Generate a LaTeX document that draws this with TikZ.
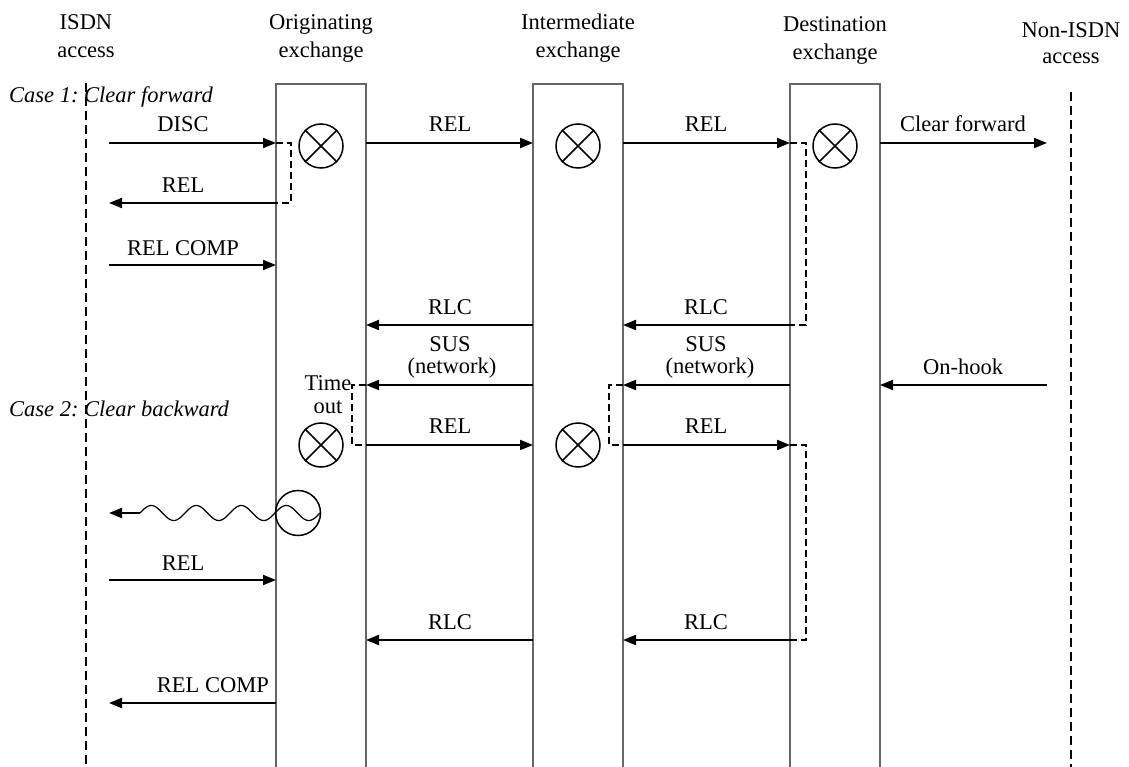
\documentclass[tikz,border=0pt]{standalone}
\usepackage{fontspec}
\setmainfont{Liberation Serif}
\usetikzlibrary{arrows.meta}
\begin{document}
\begin{tikzpicture}[x=1pt,y=-1pt,
  every node/.style={font=\fontsize{22.5}{27}\selectfont, inner sep=0pt},
  lbl/.style={anchor=base},
  msg/.style={line width=2pt, -{Triangle[length=13pt,width=10pt]}},
  life/.style={line width=1.8pt, dash pattern=on 9pt off 5pt},
  link/.style={line width=1.8pt, dash pattern=on 7pt off 4pt},
  exbox/.style={line width=1.5pt, draw=black!60},
  xcirc/.style={circle, draw, line width=1.5pt, minimum size=44pt},
]
\useasboundingbox (0,0) rectangle (1129,767);
% x positions
\path (109,0) coordinate (A) (276,0) coordinate (OL) (366,0) coordinate (OR)
      (533,0) coordinate (IL) (623,0) coordinate (IR)
      (790,0) coordinate (DL) (880,0) coordinate (DR) (1047,0) coordinate (B)
      (86,0) coordinate (LL) (1071,0) coordinate (RL);
% headers
\node[lbl] (h1a) at (86,30) {ISDN};
\node[lbl] (h1b) at (86,58) {access};
\node[lbl] (h2a) at (321,30) {Originating};
\node[lbl] (h2b) at (321,58) {exchange};
\node[lbl] (h3a) at (578,30) {Intermediate};
\node[lbl] (h3b) at (578,58) {exchange};
\node[lbl] (h4a) at (835,32) {Destination};
\node[lbl] (h4b) at (835,60) {exchange};
\node[lbl] (h5a) at (1071,38) {Non-ISDN};
\node[lbl] (h5b) at (1071,64) {access};
% lifelines
\draw[life] (LL |- 0,83) -- (LL |- 0,767);
\draw[life] (RL |- 0,92) -- (RL |- 0,767);
\draw[exbox] (OL |- 0,767) -- (OL |- 0,84) -- (OR |- 0,84) -- (OR |- 0,767);
\draw[exbox] (IL |- 0,767) -- (IL |- 0,84) -- (IR |- 0,84) -- (IR |- 0,767);
\draw[exbox] (DL |- 0,767) -- (DL |- 0,84) -- (DR |- 0,84) -- (DR |- 0,767);
% case labels
\node[anchor=base west, font=\fontsize{22.5}{27}\selectfont\itshape] (c1) at (9,103) {Case 1:\ Clear forward};
\node[anchor=base west, font=\fontsize{22.5}{27}\selectfont\itshape] (c2) at (9,416) {Case 2:\ Clear backward};
% crossed circles
\foreach \n/\x/\y in {x1/321/146, x2/578/146, x3/835/146, x4/321/445, x5/578/445} {
  \node[xcirc] (\n) at (\x,\y) {};
  \draw[line width=1.5pt] (\n.north west) -- (\n.south east) (\n.north east) -- (\n.south west);
}
% Case 1
\draw[msg] (A |- 0,143) -- (OL |- 0,143);
\node[lbl] (m1) at (183,132) {DISC};
\draw[link] (OL |- 0,143) -| (291,203) -- (OL |- 0,203);
\draw[msg] (OL |- 0,203) -- (A |- 0,203);
\node[lbl] (m2) at (183,193) {REL};
\draw[msg] (A |- 0,265) -- (OL |- 0,265);
\node[lbl] (m3) at (183,255) {REL COMP};
\draw[msg] (OR |- 0,143) -- (IL |- 0,143);
\node[lbl] (m4) at (450,132) {REL};
\draw[msg] (IR |- 0,143) -- (DL |- 0,143);
\node[lbl] (m5) at (706,132) {REL};
\draw[msg] (DR |- 0,143) -- (B |- 0,143);
\node[lbl] (m6) at (963,132) {Clear forward};
\draw[link] (DL |- 0,143) -| (806,325) -- (DL |- 0,325);
\draw[msg] (IL |- 0,325) -- (OR |- 0,325);
\node[lbl] (m7) at (450,314) {RLC};
\draw[msg] (DL |- 0,325) -- (IR |- 0,325);
\node[lbl] (m8) at (706,314) {RLC};
\draw[msg] (IL |- 0,385) -- (OR |- 0,385);
\node[lbl] (m9a) at (450,351) {SUS};
\node[lbl] (m9b) at (452,373) {(network)};
\draw[msg] (DL |- 0,385) -- (IR |- 0,385);
\node[lbl] (m10a) at (706,351) {SUS};
\node[lbl] (m10b) at (710,373) {(network)};
\draw[msg] (B |- 0,385) -- (DR |- 0,385);
\node[lbl] (m11) at (963,374) {On-hook};
% Case 2
\node[lbl] (t1) at (328,390) {Time};
\node[lbl] (t2) at (328,413) {out};
\draw[link] (OR |- 0,385) -| (352,445) -- (OR |- 0,445);
\draw[msg] (OR |- 0,445) -- (IL |- 0,445);
\node[lbl] (m12) at (450,433) {REL};
\draw[link] (IR |- 0,385) -| (609,445) -- (IR |- 0,445);
\draw[msg] (IR |- 0,445) -- (DL |- 0,445);
\node[lbl] (m13) at (706,433) {REL};
\draw[link] (DL |- 0,445) -| (806,640) -- (DL |- 0,640);
% wavy tone
\node[circle, draw, line width=1.5pt, minimum size=45pt] (tone) at (298,513) {};
\coordinate (ws) at (140,513);
\draw[line width=1.2pt] plot[domain=0:180, samples=240] ({140+\x}, {513-7.5*sin(\x*8)});
\draw[msg] (ws) -- (A |- 0,513);
\draw[msg] (A |- 0,580) -- (OL |- 0,580);
\node[lbl] (m14) at (183,570) {REL};
\draw[msg] (IL |- 0,640) -- (OR |- 0,640);
\node[lbl] (m15) at (450,629) {RLC};
\draw[msg] (DL |- 0,640) -- (IR |- 0,640);
\node[lbl] (m16) at (706,629) {RLC};
\draw[msg] (OL |- 0,703) -- (A |- 0,703);
\node[anchor=base east] (m17) at (269,692) {REL COMP};
\end{tikzpicture}
\end{document}
